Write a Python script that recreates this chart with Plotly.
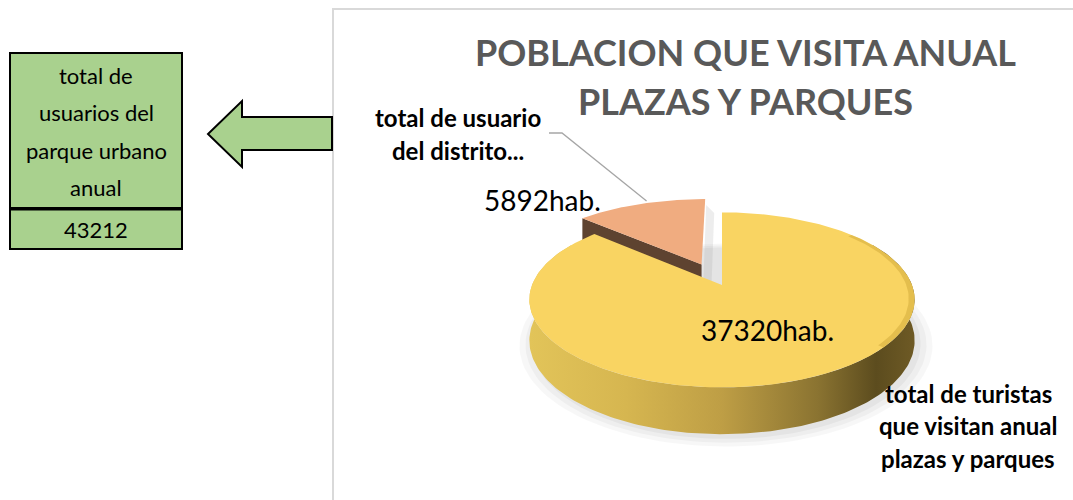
import numpy as np
import plotly.graph_objects as go

# Series drawn as a tilted pie
categories = ["total de turistas\nque visitan anual\nplazas y parques",
              "total de usuario\ndel distrito..."]
values = [37320, 5892]
value_labels = [f"{v}hab." for v in values]
title_lines = ["POBLACION QUE VISITA ANUAL", "PLAZAS Y PARQUES"]
table_header = ["total de", "usuarios del", "parque urbano", "anual"]
table_total = sum(values)

W, H = 1073, 500
FONT = "Lato, 'Open Sans', sans-serif"

# Pie geometry in figure pixels, with a simple perspective (far side smaller)
CX, CY, RX, RY, DEPTH, PERSP = 722, 285, 190, 87.5, 40, 0.17
PULL = 0.27

top_colors = ["#F9D462", "#F0AC80"]
side_colors = ["#D9BB55", "#5E4330"]

fig = go.Figure()


def proj(u, v, h=0.0):
    """Project a point of the unit disc (u right, v away) plus drop h."""
    u = np.asarray(u, dtype=float)
    v = np.asarray(v, dtype=float)
    f = 1 - PERSP * v
    return CX + RX * u * f, CY - RY * v * f + h * f


def ring(theta_deg, du=0.0, dv=0.0, r=1.0, h=0.0):
    t = np.radians(theta_deg)
    return proj(du + r * np.cos(t), dv + r * np.sin(t), h)


def poly(xs, ys, color, **kw):
    fig.add_trace(go.Scatter(
        x=list(xs), y=list(ys), mode="lines", fill="toself",
        fillcolor=color, line=dict(width=0, color=color),
        hoverinfo="skip", showlegend=False, **kw))


# Slice angles: first slice starts at 12 o'clock and runs clockwise
total = sum(values)
spans = [v / total * 360 for v in values]
big_from, big_to = 90.0 - spans[0], 90.0       # large slice
small_from, small_to = 90.0, 90.0 + spans[1]   # small slice
mid = (small_from + small_to) / 2
pu = PULL * np.cos(np.radians(mid))
pv = PULL * np.sin(np.radians(mid))

# soft shadow under the pie
for k, alpha in enumerate([0.03, 0.035, 0.04]):
    grow = 1.07 - 0.03 * k
    sx, sy = ring(np.linspace(0, 360, 140), r=grow, h=DEPTH + 3)
    poly(sx + 4, sy, f"rgba(0,0,0,{alpha})")

# --- exploded small slice (sits behind) ---
vx, vy = proj(pu, pv)
vbx, vby = proj(pu, pv, DEPTH)
ex, ey = ring(small_to, pu, pv)
ebx, eby = ring(small_to, pu, pv, h=DEPTH)
# radial cut face on its left edge
poly([vx, ex, ebx, vbx], [vy, ey, eby, vby], side_colors[1])
# shading in the gap right of the slice
tx, ty = ring(small_from, pu, pv)
poly([tx + 1, vbx + 1, vbx + 9, tx + 9], [ty + 6, vby, vby + 6, ty + 14],
     "rgba(140,140,140,0.16)")
# top face
ax_, ay_ = ring(np.linspace(small_from, small_to, 60), pu, pv)
poly([vx] + list(ax_) + [vx], [vy] + list(ay_) + [vy], top_colors[1])

# --- large slice ---
# outer wall along the front of the disc
th = np.linspace(150, 390, 200)
wx, wy = ring(th)
bx, by = ring(th[::-1], h=DEPTH)
poly(list(wx) + list(bx), list(wy) + list(by), side_colors[0],
     fillgradient=dict(type="horizontal",
                       colorscale=[[0.0, "#E2C459"], [0.25, "#D6B650"],
                                   [0.5, "#BE9E45"], [0.75, "#8A7331"],
                                   [0.9, "#5C4C1E"], [1.0, "#6E5A25"]]))
# top face
tx, ty = ring(np.linspace(big_from, big_to, 240))
cx0, cy0 = proj(0, 0)
poly([cx0] + list(tx) + [cx0], [cy0] + list(ty) + [cy0], top_colors[0])
# darker rim along the right edge of the top face
th = np.linspace(-40, 40, 60)
r1x, r1y = ring(th)
r2x, r2y = ring(th[::-1], r=0.97)
poly(list(r1x) + list(r2x), list(r1y) + list(r2y), "rgba(190,150,40,0.35)")

# leader line for the small slice label, ending on the slice's outer arc
lx, ly = ring(mid - 2, pu, pv, r=1.0)
fig.add_trace(go.Scatter(x=[549, 562, float(lx)], y=[133, 133, float(ly) - 2],
                         mode="lines", line=dict(color="#A6A6A6", width=1.3),
                         hoverinfo="skip", showlegend=False))

annotations = []
bold_lbl = dict(size=24, color="#000000", family=FONT, weight="bold")
for i, line in enumerate(categories[1].split("\n")):
    annotations.append(dict(x=458, y=117 + i * 33, text=line, font=bold_lbl))
for i, line in enumerate(categories[0].split("\n")):
    annotations.append(dict(x=968, y=393 + i * 32.5, text=line, font=bold_lbl))
# value labels
annotations.append(dict(x=767, y=330, text=value_labels[0],
                        font=dict(size=28, color="#000000", family=FONT)))
annotations.append(dict(x=542, y=200, text=value_labels[1],
                        font=dict(size=28, color="#000000", family=FONT)))
# title
for i, line in enumerate(title_lines):
    annotations.append(dict(x=745, y=52 + i * 49, text=line,
                            font=dict(size=36, color="#595959", family=FONT,
                                      weight="bold")))
# table text
for i, line in enumerate(table_header):
    annotations.append(dict(x=96, y=75 + i * 37.5, text=line,
                            font=dict(size=22, color="#000000", family=FONT)))
annotations.append(dict(x=96, y=229, text=str(table_total),
                        font=dict(size=22, color="#000000", family=FONT)))

for a_ in annotations:
    a_.update(xref="x", yref="y", showarrow=False, xanchor="center",
              yanchor="middle")

shapes = [
    # chart frame
    dict(type="rect", x0=333, y0=9, x1=1080, y1=510,
         line=dict(color="#D9D9D9", width=2), layer="below"),
    # table cells
    dict(type="rect", x0=10, y0=53, x1=182, y1=208, fillcolor="#A9D18E",
         line=dict(color="#000000", width=2)),
    dict(type="rect", x0=10, y0=208, x1=182, y1=249, fillcolor="#A9D18E",
         line=dict(color="#000000", width=2)),
    dict(type="line", x0=10, y0=209, x1=182, y1=209,
         line=dict(color="#000000", width=3)),
    # arrow pointing at the table
    dict(type="path",
         path="M 332 117 L 242 117 L 242 101 L 208 134 L 242 167 L 242 150 L 332 150 Z",
         fillcolor="#A9D18E", line=dict(color="#000000", width=2)),
]
for s in shapes:
    s.update(xref="x", yref="y")

fig.update_layout(
    width=W, height=H, margin=dict(l=0, r=0, t=0, b=0),
    paper_bgcolor="white", plot_bgcolor="white",
    xaxis=dict(range=[0, W], visible=False, fixedrange=True),
    yaxis=dict(range=[H, 0], visible=False, fixedrange=True),
    annotations=annotations, shapes=shapes, showlegend=False,
)
fig.write_html("out.html", config={"displayModeBar": False})
